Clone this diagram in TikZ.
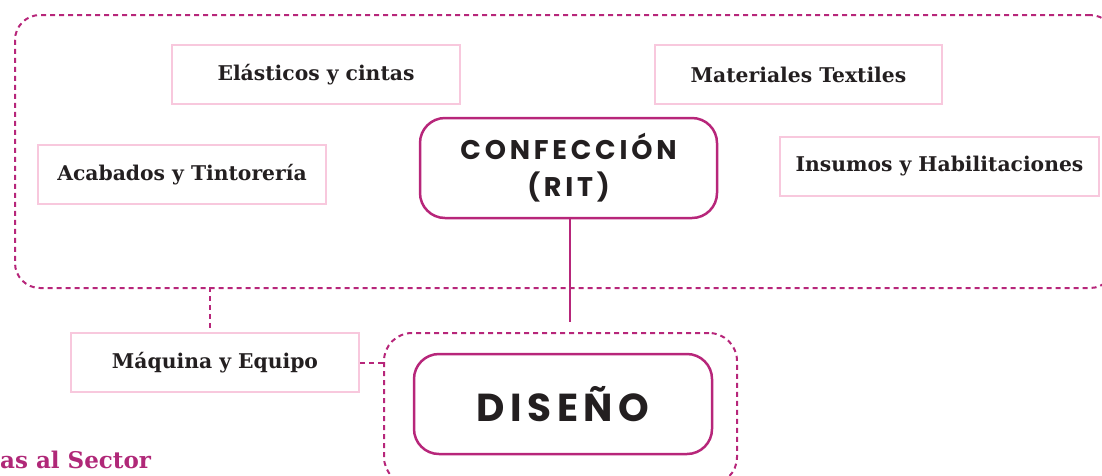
\documentclass[tikz,border=0pt]{standalone}
\usepackage{fontspec}
\setmainfont{DejaVu Serif}
\newfontfamily\geo{Poppins}[LetterSpace=14]
\definecolor{mag}{RGB}{183,38,122}
\definecolor{pinkb}{RGB}{248,200,221}
\definecolor{txt}{RGB}{35,31,32}
\begin{document}
\begin{tikzpicture}[x=1pt,y=-1pt,
  item/.style={draw=pinkb,line width=2pt,fill=white,minimum height=59pt,inner sep=0pt,
    font=\bfseries\fontsize{20.3}{24}\selectfont,text=txt},
  core/.style={draw=mag,line width=2.5pt,rounded corners=25pt,inner sep=0pt,text=txt,align=center,
    minimum width=297pt,minimum height=100pt},
  dotline/.style={draw=mag,line width=2pt,dash pattern=on 5pt off 4pt}]
\path[use as bounding box] (0,0) rectangle (1102,475);
\clip (0,0) rectangle (1102,475);
% outer dashed container
\node[dotline,rounded corners=25pt,minimum width=1100pt,minimum height=273pt,inner sep=0pt,anchor=north west] (outer) at (14,14) {};
% items
\node[item,minimum width=288pt] (elas) at (316,74.5) {Elásticos y cintas};
\node[item,minimum width=287pt] (mat) at (798.5,74.5) {Materiales Textiles};
\node[item,minimum width=288pt] (acab) at (182,174.5) {Acabados y Tintorería};
\node[item,minimum width=319pt] (ins) at (939.5,166.5) {Insumos y Habilitaciones};
\node[item,minimum width=288pt] (maq) at (215,362.5) {Máquina y Equipo};
% core boxes
\node[core,font=\geo\bfseries\fontsize{27}{37}\selectfont] (conf) at (568.5,168) {CONFECCIÓN\\(RIT)};
\node[dotline,rounded corners=28pt,minimum width=353pt,minimum height=152pt,inner sep=0pt] (disout) at (560.5,409) {};
\node[core,minimum width=298pt,font=\geo\bfseries\fontsize{39}{48}\selectfont] (dis) at (563,404) {DISEÑO};
% connectors
\coordinate (cend) at (570,322);
\coordinate (vtop) at (210,287);
\draw[mag,line width=2pt] (conf.south -| cend) -- (cend);
\draw[dotline] (vtop) -- ([xshift=-5pt,yshift=4pt]maq.north);
\draw[dotline] (maq.east) -- (maq.east -| disout.west);
% partial title
\node[anchor=base west,inner sep=0pt,text={rgb,255:red,176;green,40;blue,120},font=\bfseries\fontsize{23}{27}\selectfont] (title) at (0,468) {as al Sector};
\end{tikzpicture}
\end{document}
